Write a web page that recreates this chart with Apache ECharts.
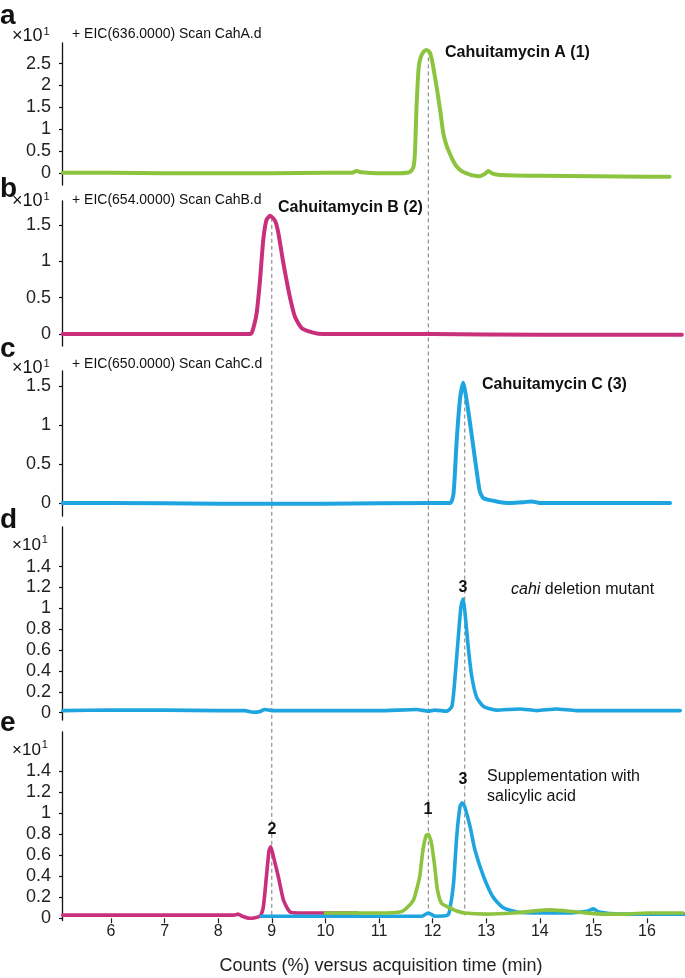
<!DOCTYPE html>
<html>
<head>
<meta charset="utf-8">
<script src="https://cdn.jsdelivr.net/npm/echarts@6/dist/echarts.min.js"></script>
<style>
  html, body { margin: 0; padding: 0; background: #fff; }
  #chart { width: 685px; height: 978px; }
</style>
</head>
<body>
<div id="chart"></div>
<script>
// ---------- DATA (counts ×10^1 vs acquisition time, min) ----------
const xTicks = [6, 7, 8, 9, 10, 11, 12, 13, 14, 15, 16];
const yTicksA = [0, 0.5, 1, 1.5, 2, 2.5];
const yTicksBC = [0, 0.5, 1, 1.5];
const yTicksDE = [0, 0.2, 0.4, 0.6, 0.8, 1, 1.2, 1.4];

// a: EIC 636 (Cahuitamycin A)
const timeA  = [5.1, 6.0, 7.0, 8.0, 9.0, 10.0, 10.5, 10.58, 10.68, 11.0, 11.4, 11.58, 11.64, 11.67, 11.7, 11.74, 11.78, 11.84, 11.89, 11.95, 12.0, 12.07, 12.14, 12.2, 12.26, 12.32, 12.38, 12.45, 12.55, 12.63, 12.75, 12.88, 12.97, 13.04, 13.12, 13.26, 14.0, 15.0, 16.0, 16.42];
const countA = [0.0, 0.0, -0.01, -0.01, -0.01, 0.0, 0.0, 0.04, 0.01, -0.01, -0.01, 0.02, 0.12, 0.45, 1.5, 2.4, 2.65, 2.78, 2.81, 2.75, 2.5, 2.0, 1.44, 0.9, 0.62, 0.44, 0.28, 0.14, 0.03, -0.01, -0.06, -0.08, -0.03, 0.04, -0.02, -0.05, -0.07, -0.08, -0.09, -0.09];

// b: EIC 654 (Cahuitamycin B)
const timeB  = [5.1, 6.0, 7.0, 8.0, 8.55, 8.62, 8.67, 8.72, 8.78, 8.84, 8.9, 8.97, 9.06, 9.12, 9.21, 9.28, 9.34, 9.43, 9.56, 9.77, 9.95, 10.5, 12.0, 14.0, 16.65];
const countB = [0.0, 0.0, 0.0, 0.0, 0.0, 0.01, 0.12, 0.3, 0.74, 1.29, 1.57, 1.63, 1.56, 1.4, 1.0, 0.72, 0.5, 0.24, 0.08, 0.02, 0.0, 0.0, 0.0, -0.01, -0.01];

// c: EIC 650 (Cahuitamycin C)
const timeC  = [5.1, 6.0, 8.0, 10.0, 12.0, 12.33, 12.39, 12.45, 12.51, 12.57, 12.64, 12.7, 12.76, 12.82, 12.88, 12.95, 13.19, 13.44, 13.7, 13.85, 14.0, 15.0, 16.43];
const countC = [0.0, 0.0, -0.01, -0.01, 0.0, 0.0, 0.12, 0.81, 1.33, 1.55, 1.3, 1.02, 0.72, 0.42, 0.15, 0.06, 0.02, 0.0, 0.01, 0.02, 0.0, 0.0, 0.0];

// d: cahi deletion mutant (EIC 650)
const timeD  = [5.1, 6.0, 7.0, 8.0, 8.5, 8.65, 8.77, 8.87, 9.0, 10.0, 11.0, 11.7, 11.92, 12.04, 12.26, 12.36, 12.42, 12.48, 12.53, 12.57, 12.6, 12.67, 12.73, 12.82, 12.95, 13.19, 13.63, 13.94, 14.31, 14.68, 15.5, 16.62];
const countD = [0.02, 0.025, 0.025, 0.02, 0.02, 0.005, 0.01, 0.03, 0.02, 0.02, 0.02, 0.03, 0.015, 0.025, 0.015, 0.06, 0.35, 0.73, 1.02, 1.09, 0.98, 0.6, 0.35, 0.15, 0.06, 0.025, 0.035, 0.02, 0.035, 0.02, 0.02, 0.02];

// e: supplementation with salicylic acid
const timeE2  = [5.1, 6.0, 7.0, 8.0, 8.3, 8.37, 8.45, 8.59, 8.78, 8.84, 8.9, 8.95, 8.98, 9.03, 9.12, 9.22, 9.34, 9.5, 10.0, 10.6];
const countE2 = [0.03, 0.03, 0.03, 0.03, 0.03, 0.04, 0.02, 0.0, 0.02, 0.1, 0.4, 0.65, 0.68, 0.59, 0.4, 0.17, 0.06, 0.05, 0.05, 0.05];
const timeE3  = [8.8, 9.5, 10.0, 11.0, 11.8, 11.92, 12.05, 12.28, 12.32, 12.39, 12.45, 12.51, 12.55, 12.6, 12.7, 12.79, 12.95, 13.13, 13.32, 13.57, 14.0, 14.5, 14.9, 15.0, 15.1, 15.5, 16.0, 16.7];
const countE3 = [0.02, 0.02, 0.02, 0.02, 0.02, 0.05, 0.02, 0.03, 0.08, 0.33, 0.78, 1.06, 1.1, 1.06, 0.87, 0.65, 0.4, 0.2, 0.1, 0.06, 0.05, 0.05, 0.07, 0.09, 0.06, 0.04, 0.04, 0.04];
const timeE1  = [10.0, 10.5, 11.0, 11.39, 11.5, 11.64, 11.7, 11.76, 11.82, 11.88, 11.92, 11.98, 12.04, 12.09, 12.17, 12.32, 12.45, 12.6, 13.0, 13.5, 14.19, 14.7, 15.2, 15.6, 16.0, 16.67];
const countE1 = [0.05, 0.05, 0.05, 0.06, 0.09, 0.17, 0.27, 0.4, 0.65, 0.79, 0.8, 0.71, 0.49, 0.27, 0.14, 0.1, 0.07, 0.05, 0.04, 0.05, 0.08, 0.06, 0.04, 0.04, 0.05, 0.05];

// reference retention times (dashed guides): time, panel where it starts, value there
const guideTimes  = [9.0, 11.92, 12.6];
const guideStartPanel = [1, 0, 2];
const guideStartValue = [1.6, 2.8, 1.5];

// ---------- STYLE / LAYOUT ----------
const FONT = '"Liberation Sans", Arial, Helvetica, sans-serif';
const GREEN = '#8cc43f', MAGENTA = '#c8307c', BLUE = '#1ea5df';
const X_MIN = 5.086, X_MAX = 16.69;

const panels = [
  { top: 43,  height: 142,   min: -0.28,  max: 2.97,  ticks: yTicksA },
  { top: 201, height: 145,   min: -0.165, max: 1.832, ticks: yTicksBC },
  { top: 371, height: 145,   min: -0.168, max: 1.70,  ticks: yTicksBC },
  { top: 527, height: 193,   min: -0.07,  max: 1.78,  ticks: yTicksDE },
  { top: 732, height: 188.5, min: -0.021, max: 1.774, ticks: yTicksDE }
];

function zip(t, v) { return t.map((x, i) => [x, v[i]]); }

const grids = panels.map(p => ({ left: 62, width: 622, top: p.top, height: p.height }));
const xAxes = panels.map((p, i) => ({
  type: 'value', gridIndex: i, min: X_MIN, max: X_MAX,
  show: true,
  axisLine: { show: false },
  splitLine: { show: false },
  axisTick: i === 4 ? { show: true, customValues: xTicks, length: 5, inside: false, lineStyle: { color: '#222', width: 1.2 } } : { show: false },
  axisLabel: i === 4 ? { show: true, customValues: xTicks, fontSize: 16, color: '#222', fontFamily: FONT, margin: 3 } : { show: false },
  name: i === 4 ? 'Counts (%) versus acquisition time (min)' : '',
  nameLocation: 'middle', nameGap: 37,
  nameTextStyle: { fontSize: 18, color: '#222', fontFamily: FONT, padding: [0, 0, 0, 16] }
}));
const yAxes = panels.map((p, i) => ({
  type: 'value', gridIndex: i, min: p.min, max: p.max,
  axisLine: { show: true, lineStyle: { color: '#111', width: 1.3 } },
  splitLine: { show: false },
  axisTick: { show: true, customValues: p.ticks, length: 3, inside: false, lineStyle: { color: '#111', width: 1.2 } },
  axisLabel: { show: true, customValues: p.ticks, fontSize: 18, color: '#222', fontFamily: FONT, margin: 11 }
}));

function line(idx, data, color, width) {
  return {
    type: 'line', xAxisIndex: idx, yAxisIndex: idx, data: data,
    showSymbol: false, smooth: 0.2,
    lineStyle: { color: color, width: width, cap: 'round', join: 'round' },
    itemStyle: { color: color }, silent: true, z: 3
  };
}

const series = [
  line(0, zip(timeA, countA), GREEN, 4),
  line(1, zip(timeB, countB), MAGENTA, 4),
  line(2, zip(timeC, countC), BLUE, 4),
  line(3, zip(timeD, countD), BLUE, 3.6),
  line(4, zip(timeE2, countE2), MAGENTA, 3.6),
  line(4, zip(timeE3, countE3), BLUE, 3.6),
  line(4, zip(timeE1, countE1), GREEN, 3.6)
];

const chart = echarts.init(document.getElementById('chart'), null, { renderer: 'canvas' });
chart.setOption({
  animation: false,
  backgroundColor: '#ffffff',
  grid: grids, xAxis: xAxes, yAxis: yAxes, series: series
});

// ---------- TEXT ANNOTATIONS ----------
function txt(x, y, text, opts) {
  return {
    type: 'text', z: 10,
    style: Object.assign({ x: x, y: y, text: text, fill: '#111', font: '14px ' + FONT, verticalAlign: 'middle', align: 'left' }, opts || {})
  };
}
function tenPow(y, size) {
  return {
    type: 'text', z: 10,
    style: {
      x: 12, y: y, text: '{m|×10}{s|1}', verticalAlign: 'middle', align: 'left',
      rich: {
        m: { fontSize: size, fontFamily: FONT, fill: '#111', verticalAlign: 'bottom' },
        s: { fontSize: Math.round(size * 0.62), fontFamily: FONT, fill: '#111', verticalAlign: 'top', padding: [0, 0, 8, 1] }
      }
    }
  };
}
const boldFont = 'bold 16px ' + FONT;
const letterFont = 'bold 28px ' + FONT;
const texts = [
  txt(0, 16, 'a', { font: letterFont }),
  txt(0, 189, 'b', { font: letterFont }),
  txt(0, 349, 'c', { font: letterFont }),
  txt(0, 520, 'd', { font: letterFont }),
  txt(0, 723, 'e', { font: letterFont }),
  tenPow(36, 18), tenPow(201, 18), tenPow(368, 18), tenPow(544, 17), tenPow(749, 17),
  txt(72, 34, '+ EIC(636.0000) Scan CahA.d'),
  txt(72, 200, '+ EIC(654.0000) Scan CahB.d'),
  txt(72, 364, '+ EIC(650.0000) Scan CahC.d'),
  txt(445, 53, 'Cahuitamycin A (1)', { font: boldFont }),
  txt(278, 208, 'Cahuitamycin B (2)', { font: boldFont }),
  txt(482, 385, 'Cahuitamycin C (3)', { font: boldFont }),
  txt(463, 588, '3', { font: boldFont, align: 'center' }),
  {
    type: 'text', z: 10,
    style: {
      x: 511, y: 590, text: '{i|cahi}{n| deletion mutant}', verticalAlign: 'middle', align: 'left',
      rich: {
        i: { fontSize: 16, fontFamily: FONT, fontStyle: 'italic', fill: '#111' },
        n: { fontSize: 16, fontFamily: FONT, fill: '#111' }
      }
    }
  },
  txt(272, 830, '2', { font: boldFont, align: 'center' }),
  txt(428, 810, '1', { font: boldFont, align: 'center' }),
  txt(463, 780, '3', { font: boldFont, align: 'center' }),
  txt(487, 777, 'Supplementation with', { font: '16px ' + FONT }),
  txt(487, 797, 'salicylic acid', { font: '16px ' + FONT })
];

// ---------- DASHED GUIDES (positions from axis scales) ----------
const guides = guideTimes.map((t, k) => {
  const p0 = chart.convertToPixel({ gridIndex: guideStartPanel[k] }, [t, guideStartValue[k]]);
  const p1 = chart.convertToPixel({ gridIndex: 4 }, [t, 0.0]);
  return {
    type: 'line', z: 1, silent: true,
    shape: { x1: p0[0], y1: p0[1], x2: p1[0], y2: p1[1] },
    style: { stroke: '#7a7a7a', lineWidth: 1, lineDash: [4, 3] }
  };
});

chart.setOption({ graphic: { elements: texts.concat(guides) } });
</script>
</body>
</html>
